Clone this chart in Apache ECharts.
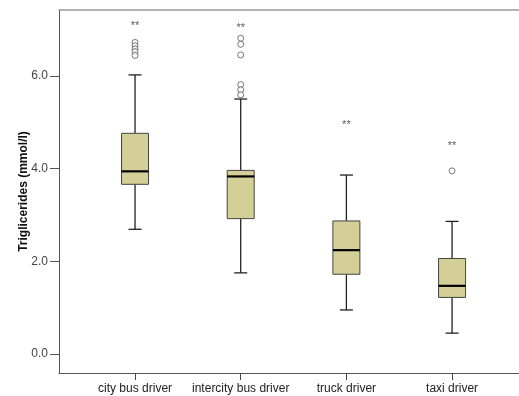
<!DOCTYPE html>
<html>
<head>
<meta charset="utf-8">
<script src="https://cdn.jsdelivr.net/npm/echarts@6/dist/echarts.min.js"></script>
<style>html,body{margin:0;padding:0;background:#fff;}#c{width:519px;height:396px;}</style>
</head>
<body>
<div id="c"></div>
<script>
const categories = ['city bus driver', 'intercity bus driver', 'truck driver', 'taxi driver'];
const whiskerLow = [2.69, 1.75, 0.95, 0.45];
const q1 = [3.66, 2.92, 1.72, 1.22];
const median = [3.94, 3.83, 2.24, 1.47];
const q3 = [4.76, 3.96, 2.87, 2.06];
const whiskerHigh = [6.02, 5.50, 3.86, 2.86];
const outliers = [
  [0, 6.72], [0, 6.65], [0, 6.58], [0, 6.52], [0, 6.44],
  [1, 6.81], [1, 6.68], [1, 6.45], [1, 5.81], [1, 5.70], [1, 5.59],
  [3, 3.95]
];
const stars = [[0, 7.14], [1, 7.10], [2, 5.01], [3, 4.55]];
const yTicks = [0, 2, 4, 6];

const FONT = 'Liberation Sans, Arial, sans-serif';
const boxData = categories.map((c, i) => [i, whiskerLow[i], q1[i], median[i], q3[i], whiskerHigh[i]]);

const chart = echarts.init(document.getElementById('c'));
chart.setOption({
  animation: false,
  grid: [
    { left: 82.2, right: 14.1, top: 10, bottom: 23 },
    { left: 59, right: -2, top: 10, bottom: 23 }
  ],
  xAxis: [
    {
      type: 'category', gridIndex: 0, data: categories, boundaryGap: true, position: 'bottom',
      axisLine: { show: false, onZero: false },
      axisTick: { show: true, alignWithLabel: true, length: 7, lineStyle: { color: '#444' } },
      axisLabel: { color: '#222', fontFamily: FONT, fontSize: 12, margin: 10, interval: 0 },
      splitLine: { show: false }
    },
    {
      type: 'value', gridIndex: 1, min: 0, max: 1, position: 'bottom',
      axisLine: { show: true, onZero: false, lineStyle: { color: '#555', width: 1 } },
      axisTick: { show: false }, axisLabel: { show: false }, splitLine: { show: false }
    },
    {
      type: 'value', gridIndex: 1, min: 0, max: 1, position: 'top',
      axisLine: { show: true, onZero: false, lineStyle: { color: '#999', width: 1.5 } },
      axisTick: { show: false }, axisLabel: { show: false }, splitLine: { show: false }
    }
  ],
  yAxis: [
    {
      type: 'value', gridIndex: 0, min: -0.41, max: 7.42, show: false
    },
    {
      type: 'value', gridIndex: 1, min: -0.41, max: 7.42, position: 'left',
      name: 'Triglicerides (mmol/l)', nameLocation: 'middle', nameGap: 29, nameMoveOverlap: false,
      nameTextStyle: { fontFamily: FONT, fontSize: 12, fontWeight: 'bold', color: '#111' },
      axisLine: { show: true, onZero: false, lineStyle: { color: '#555', width: 1 } },
      axisTick: { show: true, length: 9, customValues: yTicks, lineStyle: { color: '#555' } },
      axisLabel: { customValues: yTicks, color: '#444', fontFamily: FONT, fontSize: 12, margin: 11,
        formatter: v => v.toFixed(1) },
      splitLine: { show: false }
    }
  ],
  series: [
    {
      type: 'custom', xAxisIndex: 0, yAxisIndex: 0,
      encode: { x: 0, y: [1, 2, 3, 4, 5] },
      data: boxData,
      renderItem: function (params, api) {
        const i = api.value(0);
        const pLow = api.coord([i, api.value(1)]);
        const pQ1 = api.coord([i, api.value(2)]);
        const pMed = api.coord([i, api.value(3)]);
        const pQ3 = api.coord([i, api.value(4)]);
        const pHigh = api.coord([i, api.value(5)]);
        const x = pMed[0];
        const bw = 27, cw = 13;
        const ls = { stroke: '#222', lineWidth: 1.3, fill: null };
        return {
          type: 'group',
          children: [
            { type: 'line', shape: { x1: x, y1: pLow[1], x2: x, y2: pQ1[1] }, style: ls },
            { type: 'line', shape: { x1: x, y1: pQ3[1], x2: x, y2: pHigh[1] }, style: ls },
            { type: 'line', shape: { x1: x - cw / 2, y1: pLow[1], x2: x + cw / 2, y2: pLow[1] }, style: ls },
            { type: 'line', shape: { x1: x - cw / 2, y1: pHigh[1], x2: x + cw / 2, y2: pHigh[1] }, style: ls },
            { type: 'rect', shape: { x: x - bw / 2, y: pQ3[1], width: bw, height: pQ1[1] - pQ3[1] },
              style: { fill: '#d3cf97', stroke: '#444', lineWidth: 1 } },
            { type: 'line', shape: { x1: x - bw / 2, y1: pMed[1], x2: x + bw / 2, y2: pMed[1] },
              style: { stroke: '#000', lineWidth: 2.2 } }
          ]
        };
      }
    },
    {
      type: 'scatter', xAxisIndex: 0, yAxisIndex: 0,
      data: outliers, symbol: 'circle', symbolSize: 6,
      itemStyle: { color: '#fff', borderColor: '#444', borderWidth: 0.9 }
    },
    {
      type: 'scatter', xAxisIndex: 0, yAxisIndex: 0,
      data: stars, symbolSize: 0,
      label: { show: true, position: 'inside', formatter: '**', color: '#333', fontFamily: FONT, fontSize: 11, offset: [0, 3] }
    }
  ]
});
</script>
</body>
</html>
